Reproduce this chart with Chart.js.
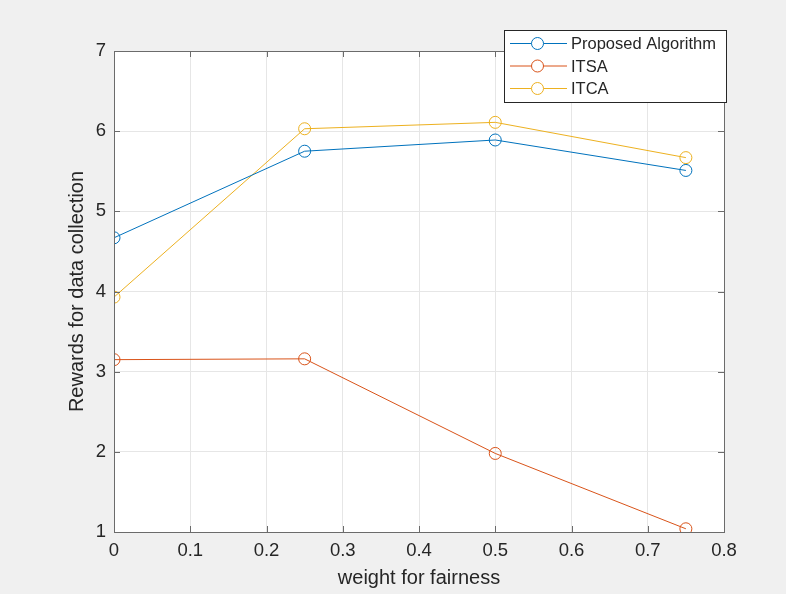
<!DOCTYPE html>
<html>
<head>
<meta charset="utf-8">
<script src="https://cdn.jsdelivr.net/npm/chart.js@4.4.0/dist/chart.umd.min.js"></script>
<style>
  html, body { margin: 0; padding: 0; background: #f0f0f0; }
  #wrap { width: 786px; height: 594px; }
</style>
</head>
<body>
<div id="wrap"><canvas id="chart" width="786" height="594"></canvas></div>
<script>
// weights for fairness and the rewards for each algorithm
const weights = [0, 0.25, 0.5, 0.75];
const proposed = [4.67, 5.75, 5.89, 5.51];
const itsa = [3.15, 3.16, 1.98, 1.04];
const itca = [3.93, 6.03, 6.11, 5.67];
const seriesNames = ['Proposed Algorithm', 'ITSA', 'ITCA'];
const seriesColors = ['#0072BD', '#D95319', '#EDB120'];

const xTicks = [0, 0.1, 0.2, 0.3, 0.4, 0.5, 0.6, 0.7, 0.8];
const yTicks = [1, 2, 3, 4, 5, 6, 7];

const fontFamily = '"Liberation Sans", Arial, sans-serif';
const textColor = '#262626';
const boxColor = '#6b6b6b';

function toPoints(ys) {
    return weights.map((w, i) => ({ x: w, y: ys[i] }));
}

// white axes background, box, inward ticks and legend in matlab style
const axesBox = {
    id: 'axesBox',
    beforeDraw(chart) {
        const a = chart.chartArea;
        const ctx = chart.ctx;
        ctx.save();
        ctx.fillStyle = '#ffffff';
        ctx.fillRect(a.left, a.top, a.right - a.left, a.bottom - a.top);
        ctx.restore();
    },
    afterDatasetsDraw(chart) {
        const a = chart.chartArea;
        const ctx = chart.ctx;
        const xs = chart.scales.x;
        const ys = chart.scales.y;
        const tl = 6;
        ctx.save();
        ctx.strokeStyle = boxColor;
        ctx.lineWidth = 1;
        ctx.beginPath();
        xTicks.forEach(v => {
            const px = Math.round(xs.getPixelForValue(v)) + 0.5;
            ctx.moveTo(px, a.bottom); ctx.lineTo(px, a.bottom - tl);
            ctx.moveTo(px, a.top); ctx.lineTo(px, a.top + tl);
        });
        yTicks.forEach(v => {
            const py = Math.round(ys.getPixelForValue(v)) + 0.5;
            ctx.moveTo(a.left, py); ctx.lineTo(a.left + tl, py);
            ctx.moveTo(a.right, py); ctx.lineTo(a.right - tl, py);
        });
        ctx.stroke();
        ctx.strokeRect(Math.round(a.left) + 0.5, Math.round(a.top) + 0.5,
            Math.round(a.right - a.left), Math.round(a.bottom - a.top));

        // legend box
        const lx = 504, ly = 30, lw = 222, lh = 72;
        ctx.fillStyle = '#ffffff';
        ctx.fillRect(lx, ly, lw, lh);
        ctx.strokeStyle = '#262626';
        ctx.strokeRect(lx + 0.5, ly + 0.5, lw, lh);
        ctx.font = '16.5px ' + fontFamily;
        ctx.textBaseline = 'middle';
        seriesNames.forEach((name, i) => {
            const y = ly + 13.5 + i * 22.5;
            ctx.strokeStyle = seriesColors[i];
            ctx.beginPath();
            ctx.moveTo(lx + 6, y); ctx.lineTo(lx + 63, y);
            ctx.stroke();
            ctx.beginPath();
            ctx.arc(lx + 33.5, y, 6, 0, Math.PI * 2);
            ctx.fillStyle = '#ffffff';
            ctx.fill();
            ctx.stroke();
            ctx.fillStyle = textColor;
            ctx.fillText(name, lx + 67, y + 1);
        });
        ctx.restore();
    }
};

const datasets = [proposed, itsa, itca].map((ys, i) => ({
    label: seriesNames[i],
    data: toPoints(ys),
    borderColor: seriesColors[i],
    backgroundColor: 'rgba(0,0,0,0)',
    borderWidth: 1,
    pointRadius: 6,
    pointBorderWidth: 1,
    pointBorderColor: seriesColors[i],
    pointBackgroundColor: 'rgba(0,0,0,0)',
    tension: 0
}));

new Chart(document.getElementById('chart'), {
    type: 'line',
    data: { datasets: datasets },
    options: {
        responsive: false,
        animation: false,
        layout: { padding: { top: 51, right: 62, left: 60, bottom: 0 } },
        plugins: {
            legend: { display: false },
            tooltip: { enabled: false }
        },
        scales: {
            x: {
                type: 'linear',
                min: 0,
                max: 0.8,
                afterFit(scale) { scale.height = 62; },
                afterBuildTicks(scale) { scale.ticks = xTicks.map(v => ({ value: v })); },
                grid: { color: '#e6e6e6', drawTicks: false, drawOnChartArea: true },
                border: { display: false },
                ticks: {
                    color: textColor,
                    font: { family: fontFamily, size: 18.5 },
                    padding: 8,
                    maxRotation: 0,
                    callback: v => String(+v.toFixed(1))
                },
                title: {
                    display: true,
                    text: 'weight for fairness',
                    color: textColor,
                    font: { family: fontFamily, size: 20 },
                    padding: { top: 2 }
                }
            },
            y: {
                type: 'linear',
                min: 1,
                max: 7,
                afterFit(scale) { scale.width = 54; },
                afterBuildTicks(scale) { scale.ticks = yTicks.map(v => ({ value: v })); },
                grid: { color: '#e6e6e6', drawTicks: false, drawOnChartArea: true },
                border: { display: false },
                ticks: {
                    color: textColor,
                    font: { family: fontFamily, size: 18.5 },
                    padding: 8
                },
                title: {
                    display: true,
                    text: 'Rewards for data collection',
                    color: textColor,
                    font: { family: fontFamily, size: 20 },
                    padding: { top: 5, bottom: 0 }
                }
            }
        }
    },
    plugins: [axesBox]
});
</script>
</body>
</html>
